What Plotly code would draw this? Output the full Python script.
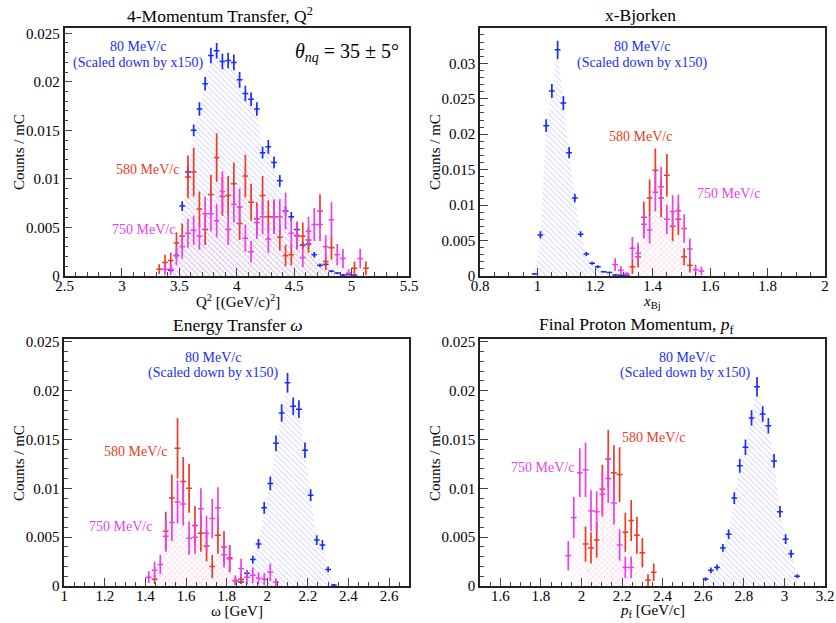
import plotly.graph_objects as go

# ---------------- data ----------------
# Panel 1: Q^2 [(GeV/c)^2]
q2_x = [3.325, 3.375, 3.425, 3.475, 3.525, 3.575, 3.625, 3.675, 3.725, 3.775, 3.825, 3.875, 3.925,
        3.975, 4.025, 4.075, 4.125, 4.175, 4.225, 4.275, 4.325, 4.375, 4.425, 4.475, 4.525, 4.575,
        4.625, 4.675, 4.725, 4.775, 4.825, 4.875, 4.925, 4.975, 5.025, 5.075, 5.125]
q2_blue = [None, None, 0.0006, 0.0021, 0.0072, 0.0107, 0.0150, 0.0172, 0.0198, 0.0227, 0.0232, 0.0221, 0.0222,
           0.0220, 0.0202, 0.0188, 0.0182, 0.0172, 0.0127, 0.0133, 0.0117, 0.0098, 0.0067, 0.0061, 0.0048, 0.0032,
           0.0033, 0.0022, 0.0011, 0.0012, 0.0005, 0.0003, 0.0001, 0.00015, 0.0001, None, None]
q2_blue_err = [0, 0, 0.0002, 0.0003, 0.0005, 0.0006, 0.0006, 0.0007, 0.0007, 0.0008, 0.0008, 0.0008, 0.0008,
               0.0008, 0.0008, 0.0008, 0.0007, 0.0007, 0.0006, 0.0007, 0.0006, 0.0006, 0.0005, 0.0005, 0.0004, 0.0003,
               0.0003, 0.0003, 0.0002, 0.0002, 0.0001, 0.0001, 0.0001, 0.0001, 0.0001, 0, 0]
q2_red = [0.0007, 0.0014, 0.0016, 0.0034, 0.0041, 0.0102, 0.0107, 0.0069, 0.0048, 0.0084, 0.0122, 0.0082, 0.0083,
          0.0095, 0.0054, 0.0103, 0.0076, 0.0059, 0.0083, 0.0061, 0.0061, 0.0040, 0.0021, 0.0022, 0.0042, 0.0041,
          0.0037, None, 0.0067, 0.0015, 0.0029, None, None, None, 0.0008, None, 0.0008]
q2_red_err = [0.0005, 0.0008, 0.0008, 0.0011, 0.0013, 0.0022, 0.0025, 0.0018, 0.0016, 0.0020, 0.0025, 0.0020, 0.0020,
              0.0022, 0.0017, 0.0022, 0.0019, 0.0017, 0.0020, 0.0017, 0.0017, 0.0014, 0.0011, 0.0011, 0.0014, 0.0014,
              0.0013, 0, 0.0017, 0.0009, 0.0012, 0, 0, 0, 0.0007, 0, 0.0007]
q2_mag = [None, 0.0007, 0.0007, 0.0021, 0.0030, 0.0044, 0.0047, 0.0041, 0.0064, 0.0064, 0.0057, 0.0087, 0.0048,
          0.0074, 0.0071, 0.0039, 0.0025, 0.0055, 0.0061, 0.0038, 0.0061, 0.0061, 0.0067, 0.0044, 0.0041, 0.0019,
          0.0046, 0.0053, 0.0053, 0.0030, 0.0058, 0.0022, 0.0018, 0.0003, None, 0.0018, None]
q2_mag_err = [0, 0.0006, 0.0006, 0.0010, 0.0012, 0.0015, 0.0015, 0.0014, 0.0018, 0.0018, 0.0017, 0.0021, 0.0016,
              0.0019, 0.0019, 0.0014, 0.0011, 0.0017, 0.0018, 0.0014, 0.0018, 0.0018, 0.0019, 0.0015, 0.0014, 0.0010,
              0.0015, 0.0017, 0.0017, 0.0012, 0.0018, 0.0011, 0.0010, 0.0004, 0, 0.0010, 0]

# Panel 2: x-Bjorken
xbj_x = [0.99, 1.01, 1.03, 1.05, 1.07, 1.09, 1.11, 1.13, 1.15, 1.17, 1.19, 1.21, 1.23, 1.25, 1.27,
         1.29, 1.31, 1.33, 1.35, 1.37, 1.39, 1.41, 1.43, 1.45, 1.47, 1.49, 1.51, 1.53, 1.55, 1.57]
xbj_blue = [0.0003, 0.0058, 0.0212, 0.0261, 0.0319, 0.0244, 0.0174, 0.0110, 0.0059, 0.0031, 0.0018, 0.0013,
            0.0006, 0.0005, 0.00015, 0.0001, 0.0001, None, None, None, None, None, None, None, None, None,
            None, None, None, None]
xbj_blue_err = [0.0001, 0.0005, 0.0009, 0.0010, 0.0013, 0.0010, 0.0008, 0.0006, 0.0004, 0.0003, 0.0002, 0.0002,
                0.0001, 0.0001, 0.0001, 0.0001, 0.0001, 0, 0, 0, 0, 0, 0, 0, 0, 0, 0, 0, 0, 0]
xbj_red = [None, None, None, None, None, None, None, None, None, None, None, None, None, None, None, None, None,
           0.0013, 0.0027, 0.0083, 0.0110, 0.0149, 0.0110, 0.0142, 0.0070, 0.0080, 0.0027, 0.0015, None, None]
xbj_red_err = [0, 0, 0, 0, 0, 0, 0, 0, 0, 0, 0, 0, 0, 0, 0, 0, 0,
               0.0010, 0.0015, 0.0022, 0.0026, 0.0031, 0.0027, 0.0030, 0.0021, 0.0022, 0.0012, 0.0010, 0, 0]
xbj_mag = [None, None, None, None, None, None, None, None, None, None, None, None, None, None,
           0.0016, 0.0008, 0.0003, 0.0039, 0.0032, 0.0073, 0.0065, 0.0118, 0.0126, 0.0080, 0.0091, 0.0092,
           0.0067, 0.0038, 0.0009, 0.0007]
xbj_mag_err = [0, 0, 0, 0, 0, 0, 0, 0, 0, 0, 0, 0, 0, 0,
               0.0009, 0.0006, 0.0003, 0.0016, 0.0015, 0.0020, 0.0019, 0.0027, 0.0028, 0.0021, 0.0023, 0.0023,
               0.0020, 0.0015, 0.0007, 0.0006]

# Panel 3: energy transfer omega [GeV]
om_x = [1.416, 1.445, 1.473, 1.500, 1.530, 1.558, 1.586, 1.615, 1.644, 1.673, 1.701, 1.729, 1.757, 1.787,
        1.815, 1.843, 1.871, 1.900, 1.929, 1.957, 1.985, 2.015, 2.043, 2.071, 2.100, 2.128, 2.156, 2.186,
        2.214, 2.244, 2.272, 2.300, 2.328]
om_blue = [None, None, None, None, None, None, None, None, None, None, None, None, None, None, None, None,
           0.0004, 0.0013, 0.0027, 0.0043, 0.0080, 0.0105, 0.0146, 0.0177, 0.0208, 0.0184, 0.0181, 0.0139,
           0.0093, 0.0047, 0.0042, 0.0017, 0.0001]
om_blue_err = [0, 0, 0, 0, 0, 0, 0, 0, 0, 0, 0, 0, 0, 0, 0, 0,
               0.0002, 0.0003, 0.0004, 0.0005, 0.0006, 0.0007, 0.0008, 0.0009, 0.0010, 0.0009, 0.0009, 0.0008,
               0.0006, 0.0005, 0.0005, 0.0003, 0.0001]
om_red = [None, 0.0007, None, 0.0056, 0.0090, 0.0141, 0.0107, 0.0100, 0.0062, 0.0054, 0.0041, 0.0020, 0.0052,
          0.0040, 0.0028, 0.0005, 0.0007, None, None, None, None, None, None, None, None, None, None, None,
          None, None, None, None, None]
om_red_err = [0, 0.0005, 0, 0.0020, 0.0024, 0.0031, 0.0025, 0.0025, 0.0020, 0.0019, 0.0016, 0.0012, 0.0019,
              0.0016, 0.0014, 0.0004, 0.0005, 0, 0, 0, 0, 0, 0, 0, 0, 0, 0, 0, 0, 0, 0, 0, 0]
om_mag = [0.0009, 0.0016, 0.0022, 0.0051, 0.0065, 0.0086, 0.0084, 0.0049, 0.0050, 0.0079, 0.0054, 0.0069,
          0.0080, 0.0032, 0.0029, 0.0006, 0.0018, 0.0009, 0.0011, 0.0008, 0.0007, 0.0014, 0.0004, None, None,
          None, None, None, None, None, None, None, None]
om_mag_err = [0.0006, 0.0009, 0.0010, 0.0016, 0.0019, 0.0022, 0.0022, 0.0017, 0.0017, 0.0021, 0.0018, 0.0020,
              0.0021, 0.0013, 0.0013, 0.0005, 0.0010, 0.0007, 0.0008, 0.0006, 0.0006, 0.0009, 0.0004, 0, 0,
              0, 0, 0, 0, 0, 0, 0, 0]

# Panel 4: final proton momentum p_f [GeV/c]
pf_x = [1.935, 1.962, 1.992, 2.020, 2.047, 2.075, 2.103, 2.132, 2.160, 2.188, 2.216, 2.245, 2.273, 2.300,
        2.328, 2.356, 2.385, 2.413, 2.441, 2.470, 2.498, 2.526, 2.555, 2.583, 2.611, 2.638, 2.668, 2.697,
        2.725, 2.753, 2.780, 2.808, 2.838, 2.865, 2.893, 2.921, 2.949, 2.978, 3.006, 3.033, 3.063]
pf_blue = [None] * 24 + [0.0007, 0.0016, 0.0019, 0.0039, 0.0053, 0.0090, 0.0123, 0.0142, 0.0172, 0.0204,
                         0.0176, 0.0164, 0.0128, 0.0076, 0.0048, 0.0033, 0.0010]
pf_blue_err = [0] * 24 + [0.0002, 0.0003, 0.0003, 0.0004, 0.0005, 0.0006, 0.0007, 0.0008, 0.0008, 0.0010,
                          0.0008, 0.0008, 0.0007, 0.0006, 0.0005, 0.0004, 0.0002]
pf_red = [None, None, None, 0.0043, 0.0039, 0.0047, 0.0099, 0.0130, 0.0116, 0.0114, 0.0055, 0.0067, 0.0052,
          0.0034, 0.0006, 0.0014] + [None] * 25
pf_red_err = [0, 0, 0, 0.0018, 0.0016, 0.0018, 0.0025, 0.0030, 0.0028, 0.0028, 0.0020, 0.0021, 0.0019,
              0.0015, 0.0006, 0.0009] + [0] * 25
pf_mag = [0.0031, 0.0070, 0.0116, 0.0119, 0.0077, 0.0076, 0.0094, 0.0110, 0.0085, 0.0042, 0.0019,
          0.0019] + [None] * 29
pf_mag_err = [0.0015, 0.0021, 0.0025, 0.0028, 0.0021, 0.0021, 0.0023, 0.0025, 0.0022, 0.0016, 0.0011,
              0.0011] + [0] * 29

bin_width = {"q2": 0.05, "xbj": 0.02, "om": 0.0285, "pf": 0.0285}

# ---------------- style ----------------
BLUE = "#1b2cf5"
RED = "#ec3b24"
MAG = "#ea3fea"
FONT = "Liberation Serif, Times New Roman, DejaVu Serif, serif"
W, H = 836, 623


def fx(p):
    return p / W


def fy(p):
    return 1 - p / H


fig = go.Figure()


def add_fill(x, y, color, shape, xa, ya, opac):
    xs = [a for a, b in zip(x, y) if b is not None]
    ys = [b for b in y if b is not None]
    fig.add_trace(go.Scatter(
        x=xs, y=ys, mode="lines", line=dict(width=0, color=color), fill="tozeroy",
        fillpattern=dict(shape=shape, fgcolor=color, fgopacity=opac, size=4, solidity=0.18,
                         bgcolor="rgba(0,0,0,0)"),
        xaxis=xa, yaxis=ya, showlegend=False, hoverinfo="skip"))


def add_points(x, y, err, half, color, xa, ya):
    fig.add_trace(go.Scatter(
        x=x, y=y, mode="markers", marker=dict(size=1, color=color),
        error_y=dict(type="data", array=err, symmetric=True, color=color, thickness=1.7, width=0),
        error_x=dict(type="data", array=[half] * len(x), symmetric=True, color=color, thickness=1.5, width=0),
        xaxis=xa, yaxis=ya, showlegend=False))


panels = [
    dict(key="q2", x=q2_x, b=(q2_blue, q2_blue_err), r=(q2_red, q2_red_err), m=(q2_mag, q2_mag_err),
         xa="x", ya="y", xdom=(64.5, 409), ydom=(28.3, 276), xr=[2.5, 5.5], yr=[0, 0.02551],
         xt=[2.5, 3, 3.5, 4, 4.5, 5, 5.5], xtt=["2.5", "3", "3.5", "4", "4.5", "5", "5.5"], xminor=0.1,
         yt=[0, 0.005, 0.01, 0.015, 0.02, 0.025]),
    dict(key="xbj", x=xbj_x, b=(xbj_blue, xbj_blue_err), r=(xbj_red, xbj_red_err), m=(xbj_mag, xbj_mag_err),
         xa="x2", ya="y2", xdom=(480, 825), ydom=(28.3, 276), xr=[0.8, 2.0], yr=[0, 0.03494],
         xt=[0.8, 1, 1.2, 1.4, 1.6, 1.8, 2], xtt=["0.8", "1", "1.2", "1.4", "1.6", "1.8", "2"], xminor=0.05,
         yt=[0, 0.005, 0.01, 0.015, 0.02, 0.025, 0.03]),
    dict(key="om", x=om_x, b=(om_blue, om_blue_err), r=(om_red, om_red_err), m=(om_mag, om_mag_err),
         xa="x3", ya="y3", xdom=(64.3, 409.3), ydom=(339.3, 586), xr=[1.0, 2.7], yr=[0, 0.02525],
         xt=[1, 1.2, 1.4, 1.6, 1.8, 2, 2.2, 2.4, 2.6], xtt=["1", "1.2", "1.4", "1.6", "1.8", "2", "2.2", "2.4", "2.6"],
         xminor=0.05, yt=[0, 0.005, 0.01, 0.015, 0.02, 0.025]),
    dict(key="pf", x=pf_x, b=(pf_blue, pf_blue_err), r=(pf_red, pf_red_err), m=(pf_mag, pf_mag_err),
         xa="x4", ya="y4", xdom=(480, 825), ydom=(339.3, 586), xr=[1.5, 3.2], yr=[0, 0.02525],
         xt=[1.6, 1.8, 2, 2.2, 2.4, 2.6, 2.8, 3, 3.2], xtt=["1.6", "1.8", "2", "2.2", "2.4", "2.6", "2.8", "3", "3.2"],
         xminor=0.05, yt=[0, 0.005, 0.01, 0.015, 0.02, 0.025]),
]

layout_axes = {}
for i, p in enumerate(panels):
    half = bin_width[p["key"]] / 2
    add_fill(p["x"], p["b"][0], BLUE, "\\", p["xa"], p["ya"], 0.35)
    add_fill(p["x"], p["r"][0], RED, "/", p["xa"], p["ya"], 0.22)
    add_fill(p["x"], p["m"][0], MAG, "\\", p["xa"], p["ya"], 0.22)
    add_points(p["x"], p["b"][0], p["b"][1], half, BLUE, p["xa"], p["ya"])
    add_points(p["x"], p["r"][0], p["r"][1], half, RED, p["xa"], p["ya"])
    add_points(p["x"], p["m"][0], p["m"][1], half, MAG, p["xa"], p["ya"])

    sfx = "" if i == 0 else str(i + 1)
    common = dict(showline=True, linecolor="#222222", linewidth=1.5, mirror=True, showgrid=False,
                  zeroline=False, ticks="inside", tickcolor="#444444", tickwidth=1,
                  tickfont=dict(family=FONT, size=15, color="black"), automargin=False, fixedrange=True,
                  ticklabeloverflow="allow")
    layout_axes["xaxis" + sfx] = dict(
        common, domain=[fx(p["xdom"][0]), fx(p["xdom"][1])], range=p["xr"], anchor="y" + sfx,
        tickmode="array", tickvals=p["xt"], ticktext=p["xtt"], ticklen=8, ticklabelstandoff=-5,
        minor=dict(dtick=p["xminor"], tick0=0, ticks="inside", ticklen=4, tickcolor="#444444", showgrid=False))
    layout_axes["yaxis" + sfx] = dict(
        common, domain=[fy(p["ydom"][1]), fy(p["ydom"][0])], range=p["yr"], anchor="x" + sfx,
        tickmode="array", tickvals=p["yt"], ticktext=["0" if v == 0 else ("%g" % v) for v in p["yt"]],
        ticklen=8,
        minor=dict(dtick=0.001, tick0=0, ticks="inside", ticklen=4, tickcolor="#444444", showgrid=False))

ann = []


def txt(text, x, y, size, color="black", xref="paper", yref="paper", angle=0):
    ann.append(dict(text=text, x=x, y=y, xref=xref, yref=yref, showarrow=False, textangle=angle,
                    font=dict(family=FONT, size=size, color=color), xanchor="center", yanchor="middle"))


# titles
txt("4-Momentum Transfer, Q<sup>2</sup>", fx(220), fy(15), 17.5)
txt("x-Bjorken", fx(640), fy(15), 17.5)
txt("Energy Transfer <i>ω</i>", fx(238), fy(325), 17.5)
txt("Final Proton Momentum, <i>p</i><sub>f</sub>", fx(637), fy(325), 17.5)

# axis titles
txt("Q<sup>2</sup> [(GeV/c)<sup>2</sup>]", fx(238), fy(302), 15)
txt("<i>x</i><sub>Bj</sub>", fx(652), fy(302), 15)
txt("ω [GeV]", fx(237), fy(611), 15)
txt("<i>p</i><sub>f</sub> [GeV/c]", fx(652), fy(611), 15)
for xp, yp in [(19, 152), (435, 152), (19, 463), (435, 463)]:
    txt("Counts / mC", fx(xp), fy(yp), 15, angle=-90)

# in-plot labels
txt("80 MeV/c", fx(138), fy(47), 14, BLUE)
txt("(Scaled down by x150)", fx(138), fy(63), 14, BLUE)
txt("580 MeV/c", fx(147), fy(170), 14, RED)
txt("750 MeV/c", fx(143), fy(229), 14, MAG)
txt("<i>θ</i><sub><i>nq</i></sub> = 35 ± 5°", fx(347), fy(52), 20)

txt("80 MeV/c", fx(642), fy(47), 14, BLUE)
txt("(Scaled down by x150)", fx(642), fy(63), 14, BLUE)
txt("580 MeV/c", fx(640), fy(136), 14, RED)
txt("750 MeV/c", fx(728), fy(193), 14, MAG)

txt("80 MeV/c", fx(213), fy(357), 14, BLUE)
txt("(Scaled down by x150)", fx(213), fy(373), 14, BLUE)
txt("580 MeV/c", fx(135), fy(451), 14, RED)
txt("750 MeV/c", fx(120), fy(526), 14, MAG)

txt("80 MeV/c", fx(687), fy(357), 14, BLUE)
txt("(Scaled down by x150)", fx(685), fy(373), 14, BLUE)
txt("580 MeV/c", fx(653), fy(437), 14, RED)
txt("750 MeV/c", fx(542), fy(467), 14, MAG)

fig.update_layout(
    width=W, height=H, margin=dict(l=0, r=0, t=0, b=0), template="none",
    paper_bgcolor="white", plot_bgcolor="white", showlegend=False,
    font=dict(family=FONT, color="black"), annotations=ann, **layout_axes)

fig.write_html("out.html", config={"displayModeBar": False},
               post_script="document.body.style.margin='0';document.body.style.overflow='hidden';")
